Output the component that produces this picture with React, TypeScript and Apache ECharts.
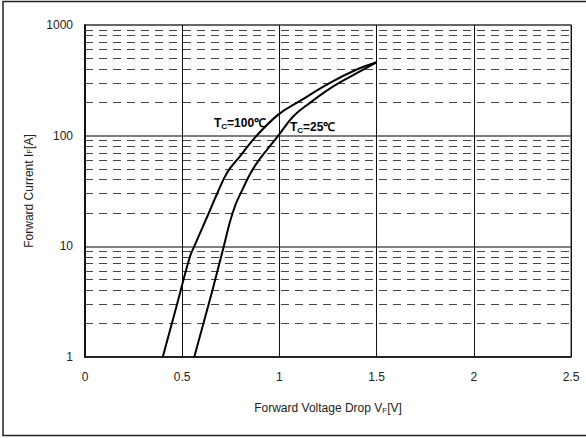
import React, { useEffect, useRef } from "react";
import * as echarts from "echarts";

const xTicks = [0, 0.5, 1, 1.5, 2, 2.5];
const yDecades = [1, 10, 100, 1000];
const minorLevels = [2, 3, 4, 5, 6, 7, 8, 9, 20, 30, 40, 50, 60, 70, 80, 90, 200, 300, 400, 500, 600, 700, 800, 900];

const tc100V = [0.4, 0.469, 0.538, 0.562, 0.637, 0.68, 0.733, 0.797, 0.874, 0.994, 1.106, 1.26, 1.398, 1.5];
const tc100I = [1, 2.8, 7.9, 10, 20, 30, 47, 65, 96, 155, 206, 300, 396, 460];

const tc25V = [0.562, 0.66, 0.714, 0.745, 0.775, 0.806, 0.852, 0.9, 0.955, 1.003, 1.072, 1.157, 1.277, 1.4, 1.5];
const tc25I = [1, 4.3, 10, 16.5, 24, 31.5, 46, 62, 82, 105, 150, 198, 279, 369, 460];

const FONT = "'Liberation Sans Narrow', 'Liberation Sans', Arial, sans-serif";

export default function App() {
  const ref = useRef<HTMLDivElement>(null);
  useEffect(() => {
    if (!ref.current) return;
    const chart = echarts.init(ref.current, undefined, { renderer: "svg" });
    const toPairs = (xs: number[], ys: number[]) => xs.map((x, i) => [x, ys[i]]);
    chart.setOption({
      animation: false,
      backgroundColor: "#fff",
      grid: {
        left: 85,
        right: 15,
        top: 25,
        bottom: 81,
        show: true,
        borderColor: "#777",
        borderWidth: 1.5,
      },
      xAxis: {
        type: "value",
        min: xTicks[0],
        max: xTicks[xTicks.length - 1],
        interval: 0.5,
        axisLine: { show: true, lineStyle: { color: "#111", width: 1.5 } },
        axisTick: { show: false },
        axisLabel: { color: "#222", fontSize: 12, fontFamily: FONT, margin: 14, formatter: (v: number) => String(v) },
        splitLine: { show: true, lineStyle: { color: "#111", width: 1 } },
        name: "Forward Voltage Drop V{s|F}[V]",
        nameLocation: "middle",
        nameGap: 45,
        nameTextStyle: {
          color: "#222",
          fontSize: 12,
          fontFamily: FONT,
          rich: { s: { fontSize: 8, fontFamily: FONT, color: "#222", verticalAlign: "bottom", padding: [3, 0, 0, 0] } },
        },
      },
      yAxis: {
        type: "log",
        logBase: 10,
        min: yDecades[0],
        max: yDecades[yDecades.length - 1],
        axisLine: { show: true, lineStyle: { color: "#111", width: 2 } },
        axisTick: { show: false },
        axisLabel: { color: "#222", fontSize: 12, fontFamily: FONT, margin: 12, formatter: (v: number) => String(Math.round(v)) },
        splitLine: { show: true, lineStyle: { color: "#555", width: 1.5 } },
        name: "Forward Current I{s|F}[A]",
        nameLocation: "middle",
        nameGap: 45,
        nameRotate: 90,
        nameTextStyle: {
          color: "#222",
          fontSize: 12,
          fontFamily: FONT,
          rich: { s: { fontSize: 8, fontFamily: FONT, color: "#222" } },
        },
      },
      series: [
        {
          type: "line",
          data: toPairs(tc100V, tc100I),
          smooth: 0.4,
          symbol: "none",
          lineStyle: { color: "#000", width: 2 },
          z: 5,
          markLine: {
            silent: true,
            symbol: ["none", "none"],
            label: { show: false },
            lineStyle: { color: "#444", width: 1, type: [8, 6] },
            data: minorLevels.map((v) => ({ yAxis: v })),
            z: 1,
          },
        },
        {
          type: "line",
          data: toPairs(tc25V, tc25I),
          smooth: 0.4,
          symbol: "none",
          lineStyle: { color: "#000", width: 2 },
          z: 5,
        },
      ],
      graphic: [
        {
          type: "rect",
          shape: { x: 3, y: 1.5, width: 620, height: 434 },
          style: { fill: "none", stroke: "#222", lineWidth: 1.5 },
          silent: true,
        },
        {
          type: "text",
          x: 214,
          y: 116,
          z: 10,
          style: {
            text: "{t|T}{c|C}{t|=100℃}",
            rich: {
              t: { fontSize: 12, fontWeight: "bold", fontFamily: FONT, fill: "#000" },
              c: { fontSize: 8, fontWeight: "bold", fontFamily: FONT, fill: "#000", verticalAlign: "bottom", padding: [6, 0, 0, 0] },
            },
          },
        },
        {
          type: "text",
          x: 290,
          y: 120,
          z: 10,
          style: {
            text: "{t|T}{c|C}{t|=25℃}",
            rich: {
              t: { fontSize: 12, fontWeight: "bold", fontFamily: FONT, fill: "#000" },
              c: { fontSize: 8, fontWeight: "bold", fontFamily: FONT, fill: "#000", verticalAlign: "bottom", padding: [6, 0, 0, 0] },
            },
          },
        },
      ],
    });
    return () => chart.dispose();
  }, []);
  return (
    <div
      ref={ref}
      style={{ position: "fixed", left: 0, top: 0, width: 586, height: 438, background: "#fff" }}
    />
  );
}
